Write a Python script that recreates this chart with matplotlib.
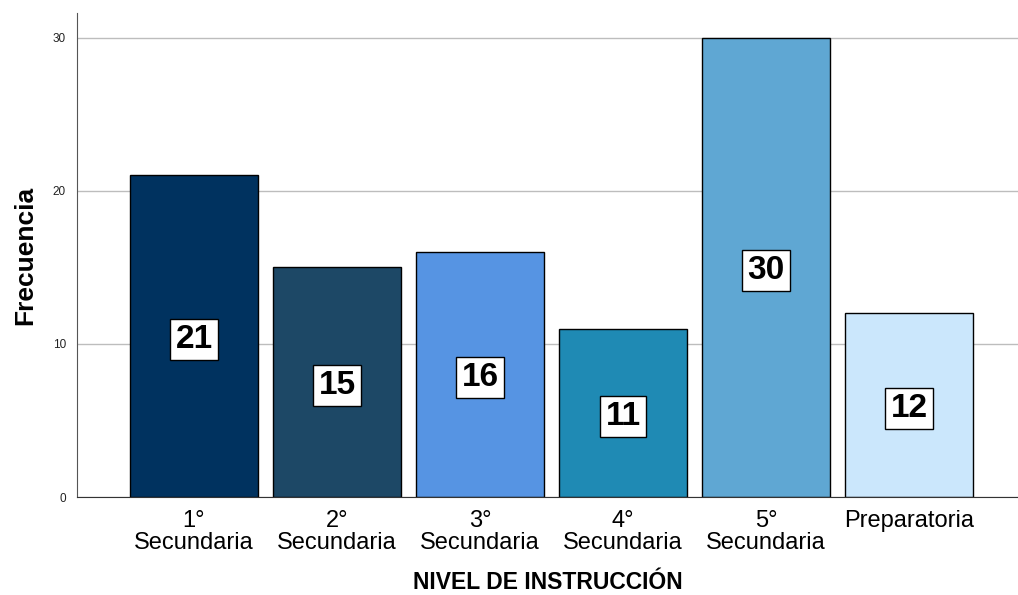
import numpy as np
import matplotlib.pyplot as plt

plt.rcParams['font.family'] = ['Liberation Sans', 'DejaVu Sans']

niveles = ['1°\nSecundaria', '2°\nSecundaria', '3°\nSecundaria',
           '4°\nSecundaria', '5°\nSecundaria', 'Preparatoria']
frecuencia = [21, 15, 16, 11, 30, 12]
colores = ['#00325f', '#1d4866', '#5694e3', '#1f8ab4', '#5fa7d3', '#cbe7fc']

fig = plt.figure(figsize=(10.18, 5.95), dpi=100)
ax = fig.add_axes([0.0756, 0.1647, 0.9244, 0.8134])

x = np.arange(len(niveles))
ax.bar(x, frecuencia, width=0.895, color=colores, edgecolor='black', linewidth=1, zorder=2)

# etiquetas con el valor en el centro de cada barra
for xi, v in zip(x, frecuencia):
    ax.text(xi, v / 2, str(v), ha='center', va='center_baseline', fontsize=24,
            fontweight='bold', color='black', zorder=3,
            bbox=dict(boxstyle='square,pad=0.15', facecolor='white',
                      edgecolor='black', linewidth=1))

ax.set_xlim(-0.818, 5.762)
ax.set_ylim(0, 31.6)
ax.set_yticks([0, 10, 20, 30])
ax.yaxis.grid(True, color='#bdbdbd', linewidth=1, zorder=0)
ax.set_axisbelow(True)

ax.set_xticks(x)
ax.set_xticklabels(niveles, fontsize=17, linespacing=1.05, va='top')
ax.tick_params(axis='x', length=0, pad=9)
ax.tick_params(axis='y', length=0, pad=8, labelsize=8.5, labelcolor='#222222')

for s in ['top', 'right']:
    ax.spines[s].set_visible(False)
ax.spines['left'].set_color('#555555')
ax.spines['bottom'].set_color('#333333')

ax.set_xlabel('NIVEL DE INSTRUCCIÓN', fontsize=16.5, fontweight='bold', labelpad=12)
ax.set_ylabel('Frecuencia', fontsize=19, fontweight='bold', labelpad=11)

fig.savefig('out.png', dpi=100)
